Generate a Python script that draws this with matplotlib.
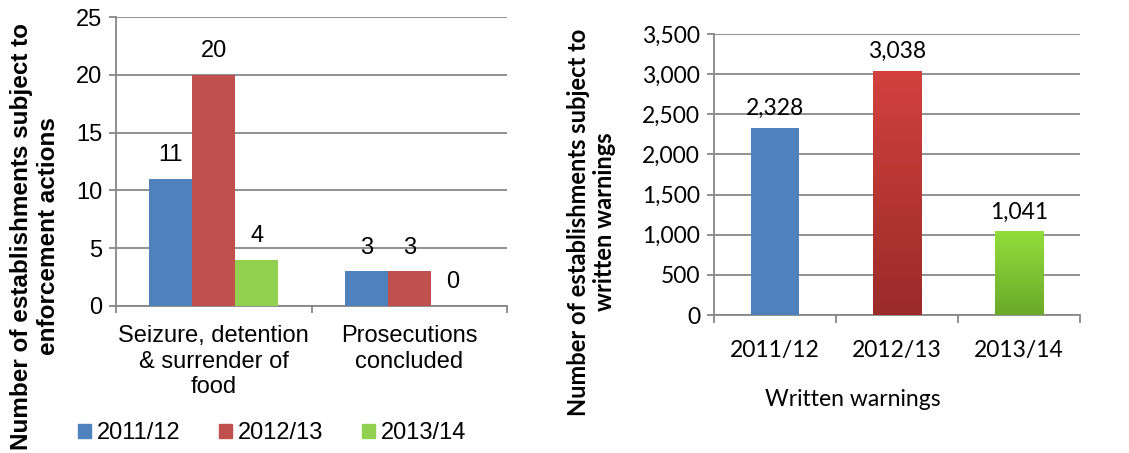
import numpy as np
import matplotlib
matplotlib.use("Agg")
import matplotlib.pyplot as plt
from matplotlib.patches import Patch
from matplotlib.colors import LinearSegmentedColormap
from matplotlib.ticker import FuncFormatter

# --- data ---
years = ['2011/12', '2012/13', '2013/14']
actions = ['Seizure, detention\n& surrender of\nfood', 'Prosecutions\nconcluded']
seizure = [11, 20, 4]
prosecutions = [3, 3, 0]
warnings = [2328, 3038, 1041]

blue = '#4F81BD'
red = '#C0504D'
green = '#92D050'
grid_c = '#878787'

fig = plt.figure(figsize=(11.29, 4.53), dpi=100)
plt.rcParams['font.family'] = 'Liberation Sans'

# ---------------- left chart ----------------
ax1 = fig.add_axes([116/1129, 1-306/453, 391/1129, 289/453])
fs = 17
x = np.arange(len(actions))
w = 0.22
cols = [blue, red, green]
for i, yr in enumerate(years):
    vals = [seizure[i], prosecutions[i]]
    bars = ax1.bar(x + (i-1)*w, vals, width=w, color=cols[i], zorder=3, label=yr)
    ax1.bar_label(bars, labels=[str(v) for v in vals], padding=9,
                  fontsize=fs, family='Liberation Sans')

ax1.set_xlim(-0.5, 1.5)
ax1.set_ylim(0, 25)
ax1.set_yticks(range(0, 26, 5))
ax1.yaxis.grid(True, color=grid_c, lw=1.3, zorder=0)
ax1.set_xticks(x)
ax1.set_xticklabels(actions, fontsize=fs, family='Liberation Sans', linespacing=1.2)
ax1.set_xticks([-0.5, 0.5, 1.5], minor=True)
ax1.tick_params(axis='x', which='major', length=0, pad=14)
ax1.tick_params(axis='x', which='minor', length=5, color=grid_c, width=1.3, direction='out')
ax1.tick_params(axis='y', length=5, color=grid_c, width=1.3, labelsize=fs, pad=5)
for s in ['top', 'right']:
    ax1.spines[s].set_visible(False)
for s in ['left', 'bottom']:
    ax1.spines[s].set_color(grid_c)
    ax1.spines[s].set_linewidth(1.3)

fig.text(0.031, 0.479, 'Number of establishments subject to\nenforcement actions',
         rotation=90, ha='center', va='center', fontsize=17.5, fontweight='bold',
         family='Liberation Sans', linespacing=1.2, multialignment='center')

handles = [Patch(color=c, label=y) for c, y in zip(cols, years)]
fig.legend(handles=handles, loc='center', bbox_to_anchor=(272/1129, 1-433/453), ncol=3,
           frameon=False, handlelength=0.55, handleheight=0.55,
           handletextpad=0.25, columnspacing=1.65,
           prop={'family': 'Liberation Sans', 'size': fs})

# ---------------- right chart ----------------
ax2 = fig.add_axes([714/1129, 1-315/453, 366/1129, 281/453])
fs2 = 16.5
xr = np.arange(len(years))
wr = 0.4

grads = [
    None,
    LinearSegmentedColormap.from_list('r', ['#9A2B29', '#D2413E']),
    LinearSegmentedColormap.from_list('g', ['#6AA92A', '#93DD3C']),
]
for i, v in enumerate(warnings):
    ax2.bar(xr[i], v, width=wr, color=blue if i == 0 else 'none', zorder=3)
    if grads[i] is not None:
        grad = np.linspace(0, 1, 256).reshape(-1, 1)
        ax2.imshow(grad, cmap=grads[i], origin='lower', aspect='auto', zorder=3,
                   extent=[xr[i]-wr/2, xr[i]+wr/2, 0, v])
    ax2.text(xr[i], v + 110, f'{v:,}', ha='center', va='bottom', fontsize=fs2, family='Lato')

ax2.set_xlim(-0.5, 2.5)
ax2.set_ylim(0, 3500)
ax2.set_yticks(range(0, 3501, 500))
ax2.yaxis.set_major_formatter(FuncFormatter(lambda v, p: f'{int(v):,}'))
ax2.yaxis.grid(True, color=grid_c, lw=1.3, zorder=0)
ax2.set_xticks(xr)
ax2.set_xticklabels(years, fontsize=fs2, family='Lato')
ax2.set_xticks([-0.5, 0.5, 1.5, 2.5], minor=True)
ax2.tick_params(axis='x', which='major', length=0, pad=18)
ax2.tick_params(axis='x', which='minor', length=6, color=grid_c, width=1.3, direction='out')
ax2.tick_params(axis='y', length=5, color=grid_c, width=1.3, labelsize=fs2, pad=5)
for lab in ax2.get_yticklabels():
    lab.set_family('Lato')
for s in ['top', 'right']:
    ax2.spines[s].set_visible(False)
for s in ['left', 'bottom']:
    ax2.spines[s].set_color(grid_c)
    ax2.spines[s].set_linewidth(1.3)

fig.text(853/1129, 1-400/453, 'Written warnings', ha='center', va='center',
         fontsize=fs2, family='Lato')

fig.text(0.524, 0.51, 'Number of establishments subject to\nwritten warnings',
         rotation=90, ha='center', va='center', fontsize=17, fontweight='bold',
         family='Lato', linespacing=1.15, multialignment='center')

fig.savefig('out.png', dpi=100)
